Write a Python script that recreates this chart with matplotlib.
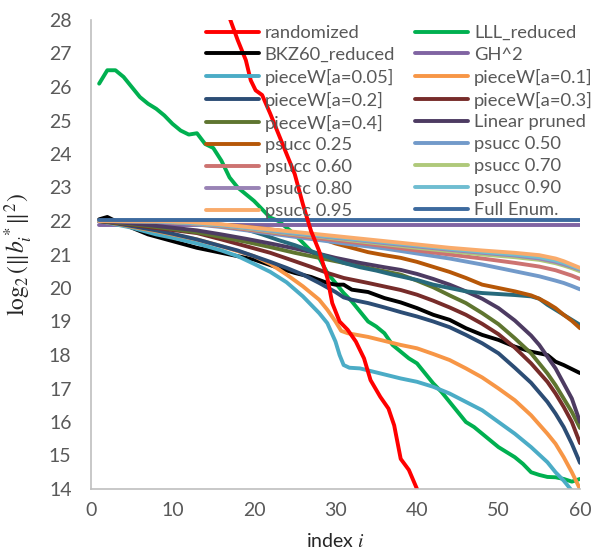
import numpy as np
import matplotlib
matplotlib.use("Agg")
import matplotlib.pyplot as plt

plt.rcParams['font.family'] = ['Lato', 'DejaVu Sans']
plt.rcParams['mathtext.fontset'] = 'stix'

# --- data (index i -> log2 ||b_i*||^2) ---
rand_x = [16.5, 17.1, 18, 19, 19.6, 20.2, 21, 22, 23, 24, 25, 26, 27, 28, 29, 29.6,
          30.5, 31.5, 32.5, 33.5, 34.3, 35.5, 36.5, 37.2, 38, 39, 40, 40.5]
rand_y = [28.4, 28.0, 27.4, 26.8, 26.2, 25.9, 25.76, 25.2, 24.6, 24.0, 23.4, 22.5, 21.7,
          21.1, 20.3, 19.55, 19.0, 18.75, 18.4, 17.9, 17.25, 16.75, 16.4, 15.9, 14.9,
          14.57, 14.0, 13.7]

lll_x = list(range(1, 61))
lll_y = [26.1, 26.5, 26.5, 26.3, 26.0, 25.7, 25.5, 25.35, 25.15, 24.9,
         24.7, 24.58, 24.62, 24.3, 24.18, 23.8, 23.3, 23.0, 22.8, 22.6,
         22.35, 22.1, 22.0, 21.8, 21.6, 21.35, 21.1, 20.9, 20.45, 20.15,
         19.85, 19.6, 19.3, 19.0, 18.85, 18.65, 18.3, 18.1, 17.9, 17.75,
         17.45, 17.15, 16.9, 16.6, 16.3, 16.0, 15.85, 15.65, 15.45, 15.25,
         15.1, 14.95, 14.75, 14.5, 14.42, 14.36, 14.35, 14.3, 14.22, 14.3]

bkz_x = [1, 2, 3, 5, 7, 10, 13, 16, 20, 23, 25, 27, 29, 30, 31, 32, 34, 36, 38, 40,
         42, 44, 46, 48, 50, 52, 54, 56, 57, 58, 59, 60]
bkz_y = [22.05, 22.12, 22.0, 21.8, 21.6, 21.4, 21.2, 21.05, 20.85, 20.6, 20.45, 20.33,
         20.15, 20.1, 20.1, 19.95, 19.88, 19.7, 19.57, 19.4, 19.2, 19.05, 18.8, 18.6,
         18.45, 18.25, 18.1, 18.0, 17.8, 17.7, 17.58, 17.46]

gh_x = [1, 60]
gh_y = [21.87, 21.87]

full_x = [1, 60]
full_y = [22.03, 22.03]

pw005_x = [1, 3, 5, 8, 10, 13, 16, 18, 20, 22, 24, 26, 27, 28, 29, 30, 30.5, 31, 31.7,
           33, 35, 38, 40, 42, 44, 46, 48, 50, 52, 54, 56, 57, 58, 59, 60]
pw005_y = [22.0, 21.9, 21.8, 21.6, 21.5, 21.33, 21.12, 20.95, 20.72, 20.48, 20.17,
           19.75, 19.5, 19.25, 18.95, 18.4, 18.0, 17.7, 17.62, 17.6, 17.48, 17.3, 17.2,
           17.05, 16.85, 16.6, 16.35, 16.0, 15.65, 15.25, 14.8, 14.5, 14.25, 13.95, 13.6]

pw01_x = [1, 3, 5, 8, 10, 13, 16, 18, 20, 22, 24, 26, 28, 29, 30, 30.7, 31.5, 34, 36,
          38, 40, 42, 44, 46, 48, 50, 52, 54, 56, 57, 58, 59, 60]
pw01_y = [22.0, 21.92, 21.83, 21.7, 21.6, 21.45, 21.25, 21.1, 20.95, 20.72, 20.4, 20.05,
          19.65, 19.35, 19.0, 18.72, 18.65, 18.54, 18.42, 18.3, 18.2, 18.03, 17.85, 17.6,
          17.33, 17.0, 16.65, 16.2, 15.65, 15.35, 14.95, 14.5, 14.0]

pw02_x = [1, 3, 5, 8, 10, 13, 16, 18, 20, 22, 24, 26, 28, 30, 31, 32, 34, 36, 38, 40,
          42, 44, 46, 48, 50, 52, 54, 56, 57, 58, 59, 60]
pw02_y = [22.0, 21.93, 21.85, 21.72, 21.62, 21.45, 21.25, 21.12, 20.95, 20.78, 20.6,
          20.4, 20.15, 19.88, 19.72, 19.65, 19.55, 19.42, 19.28, 19.15, 19.0, 18.83, 18.6,
          18.35, 18.05, 17.62, 17.17, 16.6, 16.25, 15.85, 15.35, 14.78]

pw03_x = [1, 4, 7, 10, 13, 16, 19, 22, 25, 27, 29, 31, 34, 38, 40, 42, 44, 46, 48, 50,
          52, 54, 56, 57, 58, 59, 60]
pw03_y = [22.0, 21.92, 21.82, 21.73, 21.64, 21.45, 21.25, 21.05, 20.8, 20.63, 20.45,
          20.3, 20.15, 19.94, 19.8, 19.62, 19.42, 19.2, 18.93, 18.62, 18.22, 17.75, 17.2,
          16.85, 16.45, 16.0, 15.37]

pw04_x = [1, 4, 7, 10, 13, 16, 19, 22, 25, 28, 30, 33, 36, 38, 40, 42, 44, 46, 48, 50,
          52, 54, 56, 57, 58, 59, 60]
pw04_y = [22.0, 21.93, 21.85, 21.76, 21.66, 21.52, 21.38, 21.22, 21.05, 20.9, 20.8,
          20.65, 20.5, 20.4, 20.22, 20.02, 19.78, 19.55, 19.25, 18.92, 18.5, 18.05, 17.45,
          17.1, 16.7, 16.3, 15.82]

lin_x = [1, 4, 7, 10, 13, 16, 19, 22, 25, 28, 30, 33, 36, 38, 40, 42, 44, 46, 48, 50,
         52, 54, 55, 56, 57, 58, 59, 60]
lin_y = [22.0, 21.95, 21.88, 21.8, 21.72, 21.6, 21.47, 21.33, 21.18, 21.02, 20.9, 20.75,
         20.62, 20.54, 20.42, 20.27, 20.1, 19.9, 19.68, 19.4, 19.03, 18.58, 18.3, 17.95,
         17.6, 17.15, 16.7, 16.0]

ps25_x = [1, 5, 10, 14, 17, 20, 23, 26, 28, 30, 32, 34, 36, 38, 40, 42, 44, 46, 48, 50,
          52, 54, 55, 56, 57, 58, 59, 60]
ps25_y = [22.0, 22.0, 21.98, 21.93, 21.87, 21.8, 21.72, 21.62, 21.5, 21.33, 21.2, 21.07,
          20.98, 20.9, 20.78, 20.63, 20.48, 20.3, 20.1, 20.0, 19.9, 19.78, 19.68, 19.55,
          19.4, 19.2, 19.02, 18.8]

teal_x = [1, 5, 10, 14, 17, 19, 21, 23, 25, 27, 29, 31, 33, 35, 37, 40, 42, 44, 46, 48,
          50, 52, 54, 55, 56, 57, 58, 59, 60]
teal_y = [22.0, 22.0, 21.97, 21.92, 21.85, 21.75, 21.6, 21.43, 21.28, 21.1, 20.93, 20.75,
          20.62, 20.52, 20.4, 20.24, 20.1, 20.0, 19.9, 19.85, 19.82, 19.79, 19.75, 19.68,
          19.5, 19.35, 19.2, 19.05, 18.9]

top_x = [1, 8, 12, 16, 20, 24, 28, 32, 36, 40, 44, 48, 52, 55, 57, 58, 59, 60]
ps50_y = [22.0, 21.98, 21.92, 21.82, 21.69, 21.56, 21.43, 21.3, 21.18, 21.03, 20.88,
          20.7, 20.5, 20.35, 20.22, 20.15, 20.06, 19.96]
ps60_y = [22.0, 21.98, 21.93, 21.84, 21.72, 21.6, 21.48, 21.37, 21.25, 21.12, 21.0,
          20.88, 20.75, 20.64, 20.53, 20.45, 20.37, 20.27]
ps70_y = [22.0, 21.99, 21.94, 21.86, 21.75, 21.63, 21.53, 21.42, 21.31, 21.2, 21.1,
          21.0, 20.92, 20.84, 20.74, 20.67, 20.59, 20.5]
ps80_y = [22.0, 21.99, 21.95, 21.87, 21.77, 21.65, 21.55, 21.45, 21.34, 21.24, 21.14,
          21.05, 20.97, 20.88, 20.78, 20.71, 20.63, 20.55]
ps90_y = [22.0, 21.99, 21.95, 21.88, 21.78, 21.67, 21.57, 21.47, 21.37, 21.27, 21.17,
          21.08, 21.0, 20.92, 20.82, 20.75, 20.66, 20.57]
ps95_y = [22.0, 22.0, 21.97, 21.9, 21.8, 21.7, 21.6, 21.5, 21.4, 21.3, 21.2, 21.12,
          21.05, 20.98, 20.88, 20.8, 20.7, 20.6]

labels = ['randomized', 'LLL_reduced', 'BKZ60_reduced', 'GH^2',
          'pieceW[a=0.05]', 'pieceW[a=0.1]', 'pieceW[a=0.2]', 'pieceW[a=0.3]',
          'pieceW[a=0.4]', 'Linear pruned', 'psucc 0.25', 'psucc 0.50',
          'psucc 0.60', 'psucc 0.70', 'psucc 0.80', 'psucc 0.90',
          'psucc 0.95', 'Full Enum.']
colors = ['#FF0000', '#00B050', '#000000', '#8064A2',
          '#4BACC6', '#F79646', '#2C4D75', '#772C2A',
          '#5F7530', '#4D3B62', '#B65708', '#729ACA',
          '#CD7371', '#AFC97A', '#9983B5', '#6FBDD1',
          '#F9AB6B', '#3D6A9E']
series = [(rand_x, rand_y), (lll_x, lll_y), (bkz_x, bkz_y), (gh_x, gh_y),
          (pw005_x, pw005_y), (pw01_x, pw01_y), (pw02_x, pw02_y), (pw03_x, pw03_y),
          (pw04_x, pw04_y), (lin_x, lin_y), (ps25_x, ps25_y), (top_x, ps50_y),
          (top_x, ps60_y), (top_x, ps70_y), (top_x, ps80_y), (top_x, ps90_y),
          (top_x, ps95_y), (full_x, full_y)]

fig = plt.figure(figsize=(5.95, 5.56), dpi=100)
ax = fig.add_axes([91/595, 1 - 489/556, (580 - 91)/595, (489 - 20)/556])

lw = 2.8
handles = []
for k, ((xs, ys), lab, col) in enumerate(zip(series, labels, colors)):
    h, = ax.plot(xs, ys, color=col, lw=lw, label=lab, zorder=2 + k * 0.01,
                 solid_capstyle='round', solid_joinstyle='round')
    handles.append(h)
    if lab == 'Linear pruned':
        # extra teal curve, not in the legend
        ax.plot(teal_x, teal_y, color='#276A7C', lw=lw, zorder=2 + k * 0.01,
                solid_capstyle='round')
# red on top like in the original
handles[0].set_zorder(2.5)

ax.set_xlim(0, 60)
ax.set_ylim(14, 28)
ax.set_xticks(np.arange(0, 61, 10))
ax.set_yticks(np.arange(14, 29, 1))
for s in ['top', 'right']:
    ax.spines[s].set_visible(False)
for s in ['left', 'bottom']:
    ax.spines[s].set_color('#BFBFBF')
    ax.spines[s].set_linewidth(1.2)
ax.tick_params(length=0, labelsize=14, colors='#595959')
ax.tick_params(axis='y', pad=14)
ax.tick_params(axis='x', pad=9)

ax.set_xlabel(r'index $i$', fontsize=14, color='#262626', labelpad=10)
ax.set_ylabel(r'$\log_2(\Vert b_i^*\Vert^2)$', fontsize=17, color='#262626', labelpad=10)

# Excel orders legend row-wise; matplotlib fills columns
order = list(range(0, 18, 2)) + list(range(1, 18, 2))
leg = ax.legend([handles[i] for i in order], [labels[i] for i in order],
                ncol=2, frameon=False, fontsize=13.2, loc='upper left',
                bbox_to_anchor=(206/595, 1 - 25/556), bbox_transform=fig.transFigure,
                borderaxespad=0, borderpad=0, labelspacing=0.32,
                handlelength=2.9, handletextpad=0.3, columnspacing=1.1)
for t in leg.get_texts():
    t.set_color('#595959')
leg.set_zorder(10)

fig.savefig('out.png', dpi=100)
